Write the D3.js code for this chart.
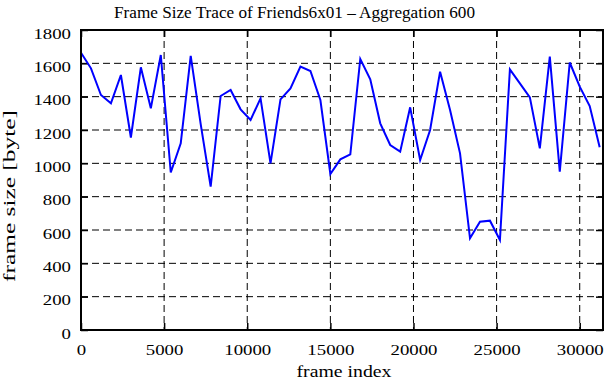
<!DOCTYPE html>
<html><head><meta charset="utf-8">
<script src="https://cdn.jsdelivr.net/npm/d3@7"></script>
<style>body{margin:0;background:#fff}svg{display:block}</style>
</head><body><svg id="c" width="611" height="380"></svg>
<script>
const titleText = "Frame Size Trace of Friends6x01 \u2013 Aggregation 600";
const xLabel = "frame index";
const yLabel = "frame size [byte]";
const step = 600;
const frameIndex = d3.range(0, 31201, step);
const frameSize = [1664,1570,1410,1360,1530,1155,1576,1330,1650,945,1120,1645,1235,860,1404,1440,1324,1260,1390,1000,1384,1450,1580,1554,1380,936,1024,1054,1626,1504,1240,1110,1070,1336,1020,1200,1550,1320,1060,550,650,656,540,1564,1480,1396,1090,1640,950,1605,1460,1344,1096];
const xTicks = [0,5000,10000,15000,20000,25000,30000];
const yTicks = [0,200,400,600,800,1000,1200,1400,1600,1800];

const FONT = "'Liberation Serif','Times New Roman',serif";
const svg = d3.select("#c");
const L=81,R=603,T=30,B=330;
const x = d3.scaleLinear().domain([0,31400]).range([L,R]);
const y = d3.scaleLinear().domain([0,1800]).range([B,T]);

// grid
svg.append("g").selectAll("line").data(xTicks.filter(d=>d>0)).join("line")
  .attr("x1",d=>x(d)).attr("x2",d=>x(d)).attr("y1",T).attr("y2",B)
  .attr("stroke","#000").attr("stroke-width",1).attr("stroke-dasharray","7,4");
svg.append("g").selectAll("line").data(yTicks.filter(d=>d>0&&d<1800)).join("line")
  .attr("y1",d=>y(d)).attr("y2",d=>y(d)).attr("x1",L).attr("x2",R)
  .attr("stroke","#000").attr("stroke-width",1).attr("stroke-dasharray","7,4");

const fmt = d3.format("d");
const styleText = (s)=>s.style("font-family",FONT).style("font-size","15px").attr("fill","#000")
  .attr("lengthAdjust","spacingAndGlyphs").attr("textLength",d=>String(d).length*9.4);
const clean = (s)=>{s.attr("font-family",null).attr("font-size",null);s.select(".domain").remove();s.selectAll("line").attr("stroke-width",1.5);};
svg.append("g").attr("transform",`translate(0,${B})`)
  .call(d3.axisBottom(x).tickValues(xTicks).tickFormat(fmt).tickSizeInner(-7).tickSizeOuter(0))
  .call(s=>{clean(s);s.selectAll("text").attr("y",25).attr("dy",null).call(styleText);});
svg.append("g").attr("transform",`translate(0,${T})`)
  .call(d3.axisTop(x).tickValues(xTicks).tickFormat("").tickSizeInner(-7).tickSizeOuter(0))
  .call(clean);
svg.append("g").attr("transform",`translate(${L},0)`)
  .call(d3.axisLeft(y).tickValues(yTicks).tickFormat(fmt).tickSizeInner(-7).tickSizeOuter(0))
  .call(s=>{clean(s);s.selectAll("text").attr("x",-10).attr("y",8.3).attr("dy",null).call(styleText);});
svg.append("g").attr("transform",`translate(${R},0)`)
  .call(d3.axisRight(y).tickValues(yTicks).tickFormat("").tickSizeInner(-7).tickSizeOuter(0))
  .call(clean);

// line
const line = d3.line().x((d,i)=>x(frameIndex[i])).y(d=>y(d));
svg.append("path").datum(frameSize).attr("d",line)
  .attr("fill","none").attr("stroke","#0000ff").attr("stroke-width",2).attr("stroke-linejoin","miter");

// border
svg.append("rect").attr("x",L).attr("y",T).attr("width",R-L).attr("height",B-T)
  .attr("fill","none").attr("stroke","#000").attr("stroke-width",2);

const lab = (t)=>t.style("font-family",FONT).attr("fill","#000").attr("lengthAdjust","spacingAndGlyphs");
svg.append("text").attr("x",294.5).attr("y",18).attr("text-anchor","middle").style("font-size","16.5px")
  .attr("textLength",361).call(lab).text(titleText);
svg.append("text").attr("x",344).attr("y",377).attr("text-anchor","middle").style("font-size","17px")
  .attr("textLength",95).call(lab).text(xLabel);
svg.append("text").attr("transform","translate(15,196) rotate(-90)").attr("text-anchor","middle").style("font-size","17px")
  .attr("textLength",172).call(lab).text(yLabel);
</script></body></html>
